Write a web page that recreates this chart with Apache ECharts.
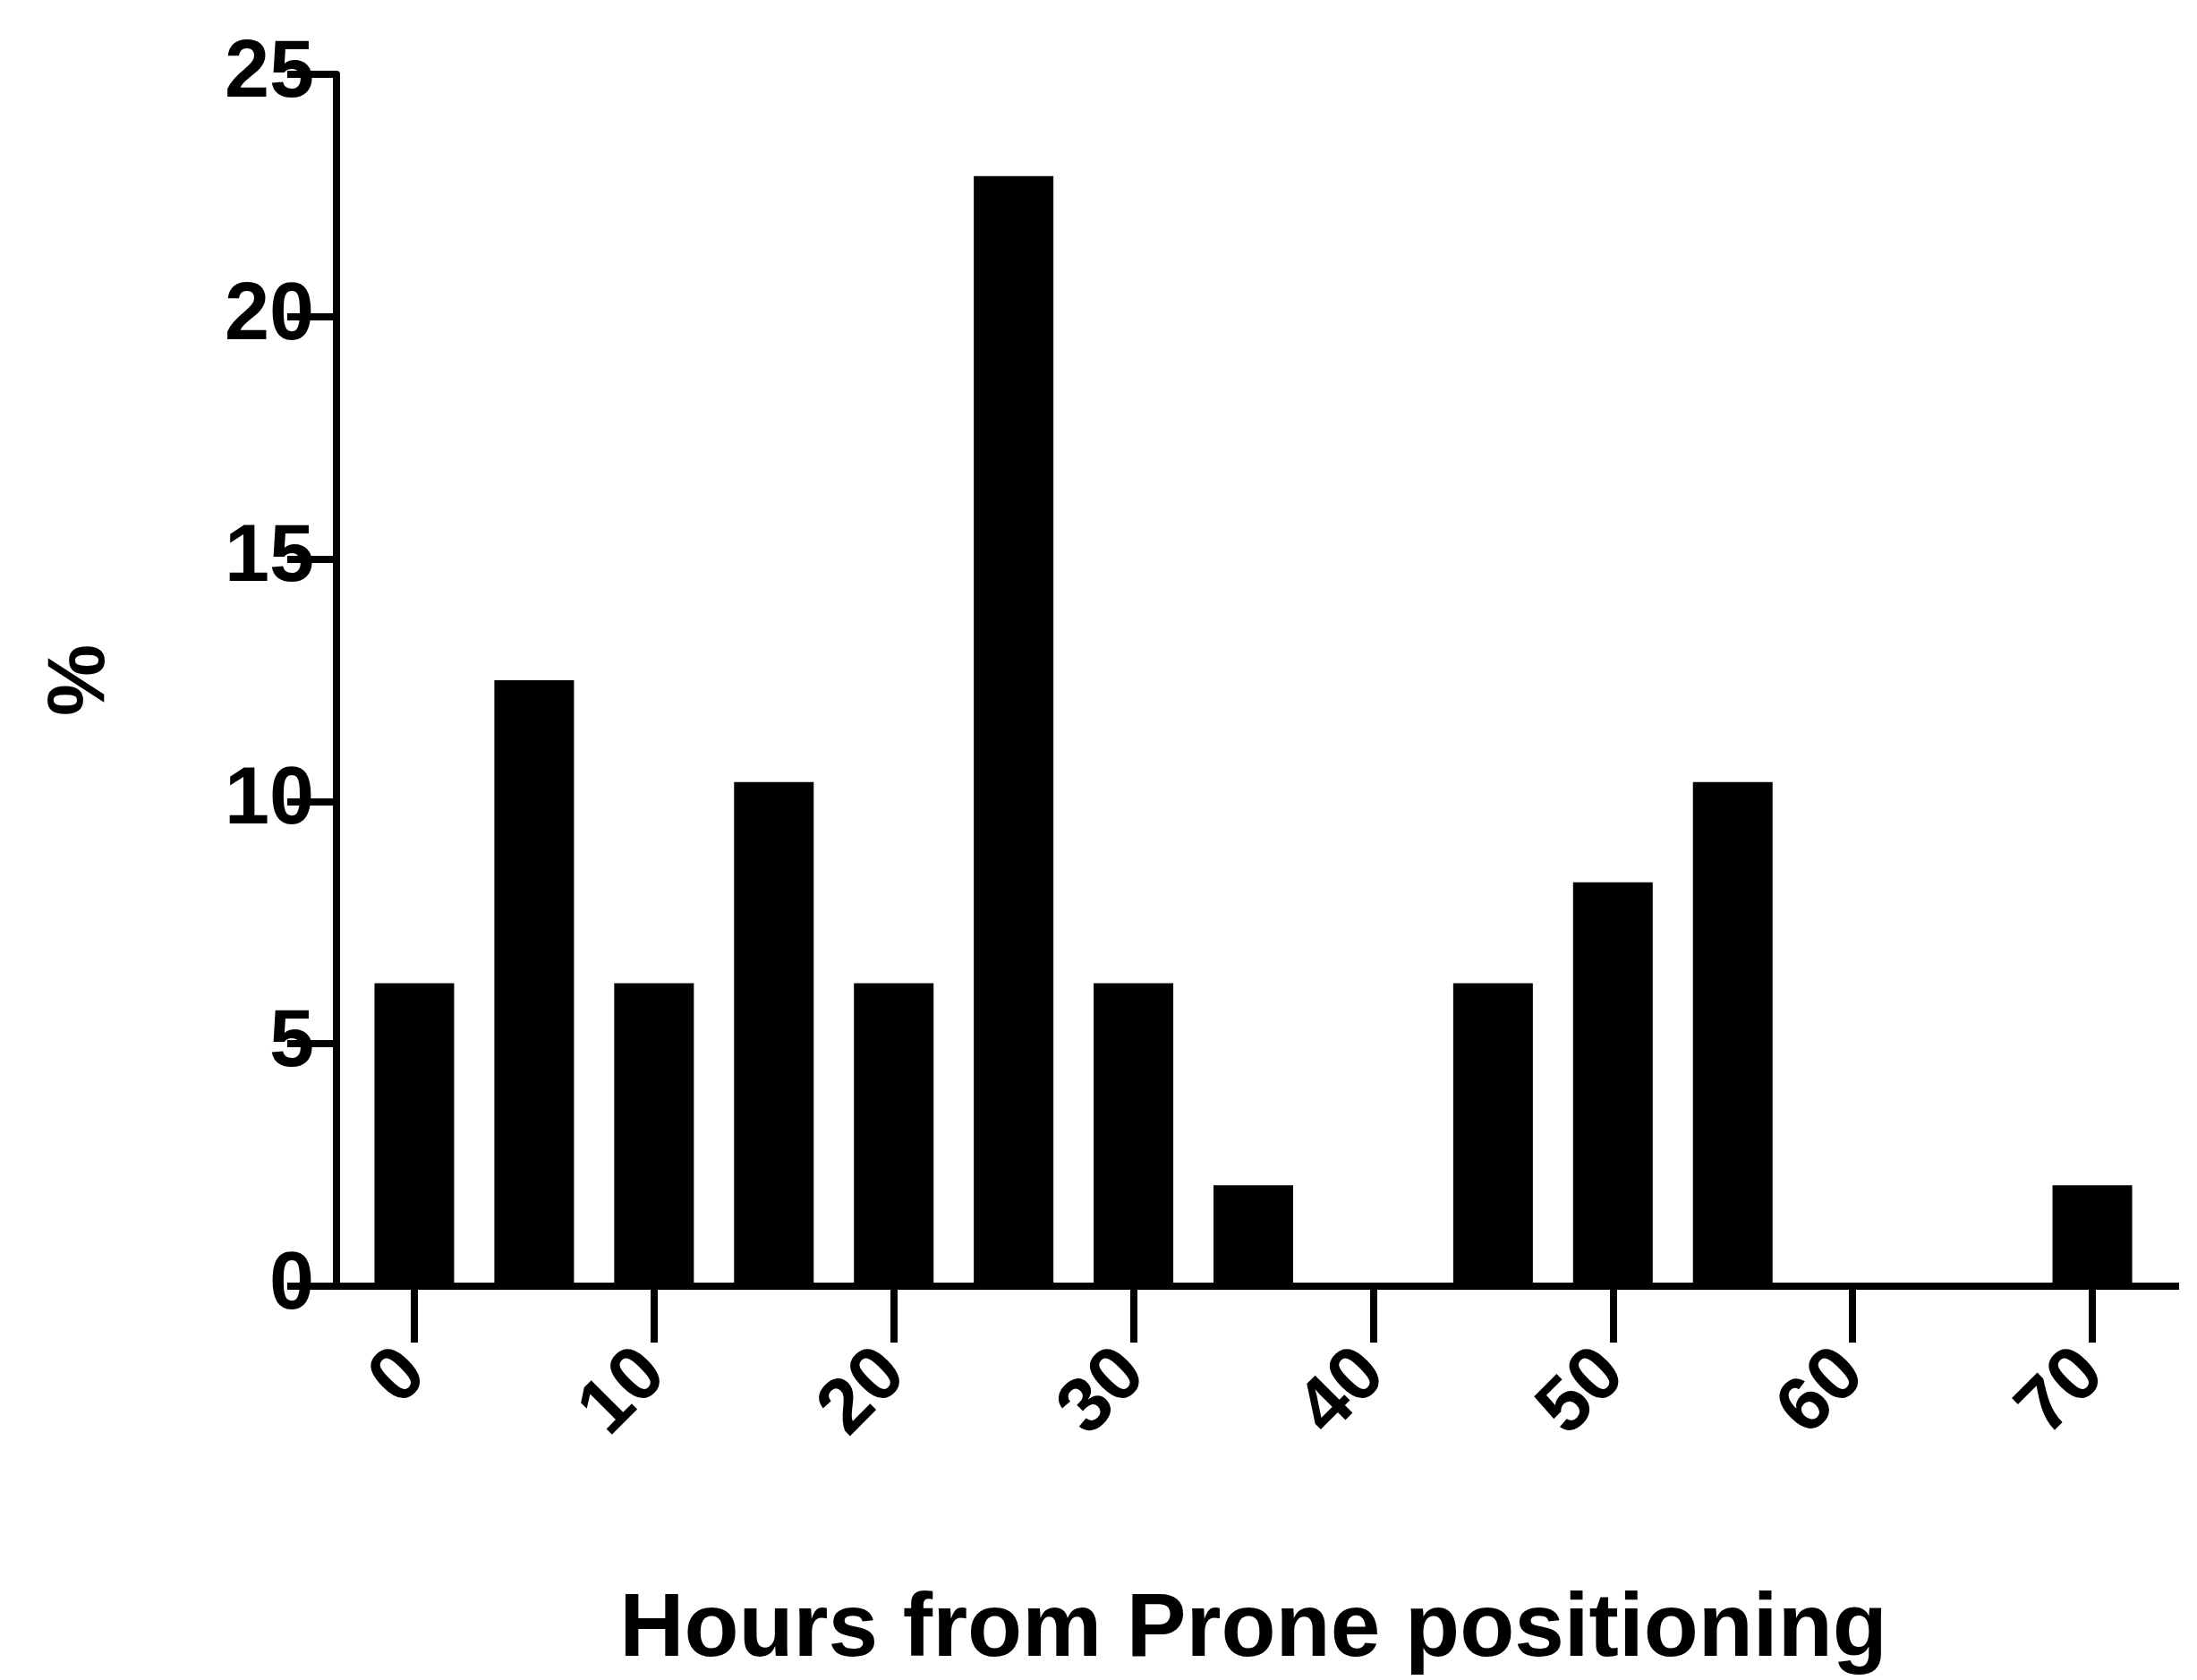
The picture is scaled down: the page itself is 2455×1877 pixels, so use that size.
<!DOCTYPE html>
<html><head><meta charset="utf-8">
<script src="https://cdn.jsdelivr.net/npm/echarts@6/dist/echarts.min.js"></script>
<style>html,body{margin:0;padding:0;background:#fff}#c{width:2455px;height:1877px}</style>
</head><body><div id="c"></div>
<script>
const categories = ['0','5','10','15','20','25','30','35','40','45','50','55','60','65','70'];
const percents = [6.25,12.5,6.25,10.4,6.25,22.9,6.25,2.08,0,6.25,8.33,10.4,0,0,2.08];
const yTicks = [0,5,10,15,20,25];
const medianPos = 7.53; // in category-index units
const medianLabel = 'Median duration of PP cycle';

const chart = echarts.init(document.getElementById('c'));
const F = 'Arial, "Liberation Sans", sans-serif';
chart.setOption({
  animation:false,
  grid:{left:396, right:50, top:83, bottom:428},
  xAxis:[{
    type:'category', data:categories,
    axisLine:{show:false},
    axisTick:{show:true, alignWithLabel:true, length:63, lineStyle:{color:'#000', width:8}},
    axisLabel:{rotate:45, margin:85, fontSize:86, fontWeight:'bold', color:'#000', fontFamily:F},
    name:'Hours from Prone positioning', nameLocation:'middle', nameGap:335,
    nameTextStyle:{fontSize:100, fontWeight:'bold', color:'#000', fontFamily:F}
  },{
    type:'value', min:-0.5, max:14.5, show:false
  }],
  yAxis:{
    type:'value', min:0, max:25, interval:5, offset:20,
    axisLine:{show:true, onZero:false, lineStyle:{color:'#000', width:8}},
    axisTick:{show:true, length:55, lineStyle:{color:'#000', width:8}},
    splitLine:{show:false},
    axisLabel:{fontSize:90, fontWeight:'bold', color:'#000', margin:25, fontFamily:F},
    name:'%', nameLocation:'middle', nameGap:240, nameRotate:90,
    nameTextStyle:{fontSize:90, fontWeight:'bold', color:'#000', fontFamily:F}
  },
  series:[{
    type:'bar', data:percents, barWidth:89, itemStyle:{color:'#000'}
  },{
    type:'scatter', xAxisIndex:1, symbolSize:0, data:[[medianPos,0]],
    markLine:{
      symbol:'none', silent:true,
      lineStyle:{type:[3,7], color:'#000', width:3},
      label:{show:true, formatter:medianLabel, position:'insideEndTop', fontSize:48, fontStyle:'italic', color:'#000', fontFamily:F, distance:12},
      data:[[{coord:[medianPos,0]},{coord:[medianPos,25.6]}]]
    }
  }]
});
const p0 = chart.convertToPixel({yAxisIndex:0}, 0);
chart.setOption({graphic:[{type:'line', shape:{x1:321, y1:p0, x2:2435, y2:p0}, style:{stroke:'#000', lineWidth:8}}]});
</script></body></html>
